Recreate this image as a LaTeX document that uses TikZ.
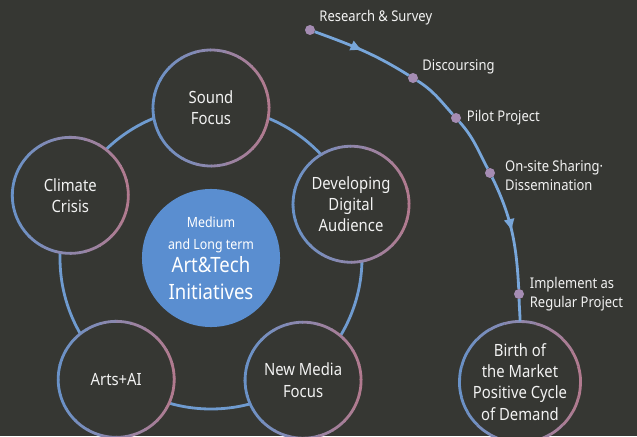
\documentclass[tikz,border=0pt]{standalone}
\usepackage{fontspec}
\setmainfont{Noto Sans}[FakeStretch=0.88]
\usetikzlibrary{arrows.meta,calc,positioning,decorations.markings}

\definecolor{bgc}{HTML}{363733}
\definecolor{bluec}{HTML}{6A92C8}
\definecolor{pinkc}{HTML}{B27A8E}
\definecolor{ringc}{HTML}{6F9BD0}
\definecolor{corec}{HTML}{5A8ED0}
\definecolor{flowc}{HTML}{78A6DA}
\definecolor{dotc}{HTML}{A58CB3}

\tikzset{
  topic/.style={circle, fill=bgc, minimum size=2.9cm, inner sep=0pt, outer sep=0pt,
    align=center, text=white!95!black, font=\fontsize{12}{15}\selectfont},
  core/.style={circle, fill=corec, minimum size=3.45cm, inner sep=0pt,
    align=center, text=white, font=\fontsize{10}{16}\selectfont},
  dot/.style={circle, fill=dotc, minimum size=0.25cm, inner sep=0pt, outer sep=0pt},
  note/.style={inner sep=0pt, align=left, text=white!95!black,
    font=\fontsize{10.5}{13.5}\selectfont},
  flow/.style={draw=flowc, line width=2pt},
  midarrow/.style={postaction={decorate}, decoration={markings,
    mark=at position 0.5 with {\arrow[flowc]{Latex[length=9pt,width=8pt]}}}}
}

\begin{document}
\begin{tikzpicture}[x=0.025cm, y=0.025cm]
    \useasboundingbox (0,0) rectangle (637,436);
    \clip (0,0) rectangle (637,436);
    \fill[bgc] (0,0) rectangle (637,436);

    % centre and the ring of topics
    \node[core] (core) at (211,178) {Medium\\ and Long term\\
      \fontsize{15}{19}\selectfont Art\&Tech\\[3pt]
      \fontsize{15}{19}\selectfont Initiatives};
    \draw[ringc, line width=2pt] (core) circle[radius=151];

    \node[topic] (sound)   at ([shift={(90:150)}]core)   {Sound\\Focus};
    \node[topic] (climate) at ([shift={(156:154)}]core)  {Climate\\Crisis};
    \node[topic] (digital) at ([shift={(21:150)}]core)   {Developing\\Digital\\Audience};
    \node[topic] (media)   at ([shift={(-53:153)}]core)  {New Media\\Focus};
    \node[topic] (arts)    at ([shift={(-128:154)}]core) {Arts+AI};
    \node[topic, minimum size=2.85cm] (birth) at (520,54)
      {Birth of\\the Market\\Positive Cycle\\of Demand};

    % outlines going from blue (left) to pink (right)
    \foreach \n/\r in {sound/58,climate/58,digital/58,media/58,arts/58,birth/57}
      \foreach \a in {0,15,...,345}{
        \pgfmathtruncatemacro\p{50+50*cos(\a+7.5)}
        \draw[line width=2pt, pinkc!\p!bluec] (\n.\a) arc[start angle=\a, delta angle=16, radius=\r];
      }

    % steps towards the market
    \node[dot] (rs)     at (310,406) {};
    \node[dot] (disc)   at (413,358) {};
    \node[dot] (pilot)  at (456,318) {};
    \node[dot] (onsite) at (490,263) {};
    \node[dot] (impl)   at (519,142) {};

    \path[flow] (rs)     edge [out=-20, in=148, midarrow] (disc)
                (disc)   edge [out=-32, in=132]           (pilot)
                (pilot)  edge [out=-48, in=118]           (onsite)
                (onsite) edge [out=-64, in=93, midarrow]  (impl)
                (impl)   edge [out=-89, in=90]            (birth);

    \node[note, above right=1pt and 4pt of rs]   (rstxt)     {Research \& Survey};
    \node[note, above right=0pt and 4pt of disc] (disctxt)   {Discoursing};
    \node[note, right=4pt of pilot]              (pilottxt)  {Pilot Project};
    \node[note, right=7pt of onsite, yshift=-2pt] (onsitetxt) {On-site Sharing·\\Dissemination};
    \node[note, right=4pt of impl]               (impltxt)   {Implement as\\Regular Project};
\end{tikzpicture}
\end{document}
